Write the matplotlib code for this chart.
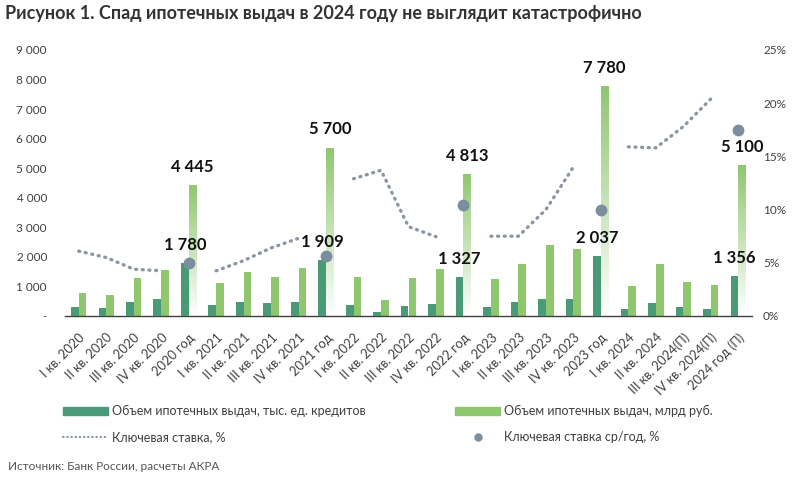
import numpy as np
import matplotlib
matplotlib.use("Agg")
import matplotlib.pyplot as plt
from matplotlib.lines import Line2D
from matplotlib.patches import Patch
from matplotlib.ticker import FuncFormatter
from matplotlib.colors import LinearSegmentedColormap

nan = np.nan

categories = [
    "I кв. 2020", "II кв. 2020", "III кв. 2020", "IV кв. 2020", "2020 год",
    "I кв. 2021", "II кв. 2021", "III кв. 2021", "IV кв. 2021", "2021 год",
    "I кв. 2022", "II кв. 2022", "III кв. 2022", "IV кв. 2022", "2022 год",
    "I кв. 2023", "II кв. 2023", "III кв. 2023", "IV кв. 2023", "2023 год",
    "I кв. 2024", "II кв. 2024", "III кв. 2024(П)", "IV кв. 2024(П)", "2024 год (П)",
]
# thousand loans
loans_k = [314, 280, 473, 585, 1780,
           372, 473, 439, 473, 1909,
           361, 124, 338, 405, 1327,
           315, 462, 585, 563, 2037,
           248, 439, 304, 225, 1356]
# bn rub
volume_bn = [777, 709, 1294, 1564, 4445,
             1115, 1486, 1306, 1622, 5700,
             1306, 540, 1284, 1588, 4813,
             1250, 1745, 2398, 2275, 7780,
             1013, 1757, 1149, 1047, 5100]
# key rate, quarterly average, %
key_rate = [6.1, 5.5, 4.4, 4.25, nan,
            4.25, 5.2, 6.4, 7.3, nan,
            12.9, 13.7, 8.4, 7.45, nan,
            7.5, 7.5, 10.0, 14.0, nan,
            15.9, 15.8, 17.8, 20.4, nan]
# key rate, yearly average, %
key_rate_year = [nan, nan, nan, nan, 5.0,
                 nan, nan, nan, nan, 5.6,
                 nan, nan, nan, nan, 10.4,
                 nan, nan, nan, nan, 10.0,
                 nan, nan, nan, nan, 17.5]
annual = [4, 9, 14, 19, 24]

DARK = "#4a9a78"
LIGHT = "#8fc76f"
DOT = "#7a8ea0"
LINE = "#8a96a3"
TXT = "#404040"

plt.rcParams["font.family"] = ["Lato", "DejaVu Sans"]

fig = plt.figure(figsize=(8, 4.87), dpi=100)
ax = fig.add_axes([65 / 800, 1 - 316 / 487, 687 / 800, 266 / 487])
ax2 = ax.twinx()

x = np.arange(len(categories))
w = 0.28
ax.bar(x - w / 2, loans_k, width=w, color=DARK, zorder=3)

light_bars = ax.bar(x + w / 2, volume_bn, width=w, color=LIGHT, zorder=2)
# annual bars fade to white towards the base
grad = np.linspace(1, 0, 256).reshape(-1, 1)
fade = LinearSegmentedColormap.from_list("fade", ["#ffffff", LIGHT])
for i in annual:
    b = light_bars[i]
    b.set_facecolor("none")
    x0, wd, h = b.get_x(), b.get_width(), b.get_height()
    im = ax.imshow(grad, cmap=fade, aspect="auto", extent=[x0, x0 + wd, 0, h],
                   origin="upper", zorder=2, vmin=0, vmax=1)
    im.set_clip_path(b)
    ax.annotate(f"{volume_bn[i]:,}".replace(",", " "), (x[i] + w / 2, h),
                xytext=(0, 13), textcoords="offset points", ha="center",
                va="center", fontsize=12, fontweight="bold", color="#111111",
                zorder=6)
    ax.annotate(f"{loans_k[i]:,}".replace(",", " "), (x[i] - w / 2, loans_k[i]),
                xytext=(0, 13), textcoords="offset points", ha="center",
                va="center", fontsize=12, fontweight="bold", color="#111111",
                zorder=6)

ax.set_xlim(-0.5, len(categories) - 0.5)
ax.set_ylim(0, 9000)
ax.set_yticks(np.arange(0, 9001, 1000))
ax.yaxis.set_major_formatter(FuncFormatter(
    lambda v, p: "-" if v == 0 else f"{int(v):,}".replace(",", " ")))

ax2.plot(x, key_rate, color=LINE, lw=2.4, linestyle=(0, (0.3, 1.7)),
         dash_capstyle="round", zorder=4)
ax2.plot(x, key_rate_year, "o", color=DOT, ms=7.5, zorder=5)
ax2.set_ylim(0, 25)
ax2.set_yticks(np.arange(0, 26, 5))
ax2.yaxis.set_major_formatter(FuncFormatter(lambda v, p: f"{int(v)}%"))

ax.set_xticks(x)
ax.set_xticklabels(categories, rotation=45, ha="right", rotation_mode="anchor")
ax.tick_params(axis="x", length=0, pad=11, labelsize=9.3, labelcolor=TXT)
ax.tick_params(axis="y", length=0, pad=13, labelsize=8.5, labelcolor=TXT)
ax2.tick_params(axis="y", length=0, pad=8, labelsize=8.5, labelcolor=TXT)
for a in (ax, ax2):
    for s in ("top", "left", "right", "bottom"):
        a.spines[s].set_visible(False)
ax.spines["bottom"].set_visible(True)
ax.spines["bottom"].set_color("#404040")
ax.spines["bottom"].set_linewidth(1)
ax.set_zorder(ax2.get_zorder() - 1)
ax.patch.set_visible(False)

fig.text(5 / 800, 1 - 14 / 487,
         "Рисунок 1. Спад ипотечных выдач в 2024 году не выглядит катастрофично",
         fontsize=13, fontweight="bold", color="#333333", va="center")

h1 = [Patch(color=DARK),
      Line2D([], [], color=LINE, lw=1.5, linestyle=(0, (0.3, 1.7)), dash_capstyle="round")]
l1 = ["Объем ипотечных выдач, тыс. ед. кредитов", "Ключевая ставка, %"]
h2 = [Patch(color=LIGHT), Line2D([], [], marker="o", color=DOT, lw=0, ms=5)]
l2 = ["Объем ипотечных выдач, млрд руб.", "Ключевая ставка ср/год, %"]
for hh, ll, xpos in ((h1, l1, 52), (h2, l2, 444)):
    fig.legend(hh, ll, loc="upper left", bbox_to_anchor=(xpos / 800, 1 - 394 / 487),
               frameon=False, fontsize=9, handlelength=3.6, handleheight=0.5,
               handletextpad=0.3, labelspacing=1.1, labelcolor=TXT)

fig.text(8 / 800, 1 - 467 / 487, "Источник: Банк России, расчеты АКРА",
         fontsize=8.5, color="#555555", va="center")

fig.savefig("out.png", dpi=100)
